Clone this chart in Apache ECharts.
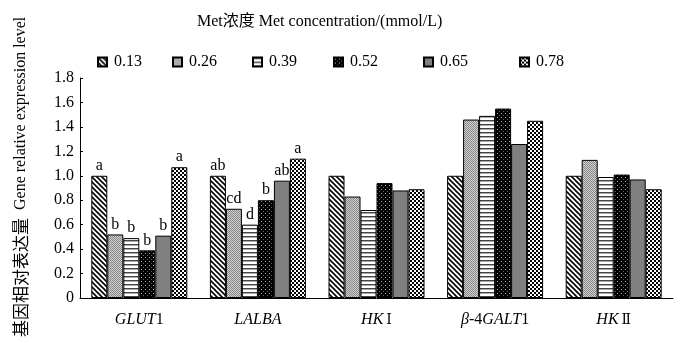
<!DOCTYPE html>
<html><head><meta charset="utf-8">
<script src="https://cdn.jsdelivr.net/npm/echarts@6/dist/echarts.min.js"></script>
<style>html,body{margin:0;padding:0;background:#fff}#c{width:700px;height:343px}</style>
</head><body><div id="c"></div>
<script>
const categories = ['GLUT1', 'LALBA', 'HKⅠ', 'β-4GALT1', 'HKⅡ'];
const seriesNames = ['0.13', '0.26', '0.39', '0.52', '0.65', '0.78'];
const v013 = [1.00, 1.00, 1.00, 1.00, 1.00];
const v026 = [0.52, 0.73, 0.83, 1.46, 1.13];
const v039 = [0.49, 0.60, 0.72, 1.49, 0.99];
const v052 = [0.39, 0.80, 0.94, 1.55, 1.01];
const v065 = [0.51, 0.96, 0.88, 1.26, 0.97];
const v078 = [1.07, 1.14, 0.89, 1.45, 0.89];
const l013 = ['a', 'ab', '', '', ''];
const l026 = ['b', 'cd', '', '', ''];
const l039 = ['b', 'd', '', '', ''];
const l052 = ['b', 'b', '', '', ''];
const l065 = ['b', 'ab', '', '', ''];
const l078 = ['a', 'a', '', '', ''];
const yMin = 0, yMax = 1.8, yStep = 0.2;
const titleText = 'Met浓度 Met concentration/(mmol/L)';
const yNameZh = '基因相对表达量';
const yNameEn = 'Gene relative expression level';
const xLabelRich = {
  'GLUT1': '{i|GLUT}{n|1}',
  'LALBA': '{i|LALBA}',
  'HKⅠ': '{i|HK}{r|Ⅰ}',
  'β-4GALT1': '{i|β}{n|-4}{i|GALT}{n|1}',
  'HKⅡ': '{i|HK}{r|Ⅱ}'
};

const values = [v013, v026, v039, v052, v065, v078];
const letters = [l013, l026, l039, l052, l065, l078];

function tile(size, draw) {
  const c = document.createElement('canvas');
  c.width = size; c.height = size;
  const ctx = c.getContext('2d');
  draw(ctx, size);
  return { image: c, repeat: 'repeat' };
}
const patterns = [
  tile(5, (ctx, s) => {
    ctx.fillStyle = '#fff'; ctx.fillRect(0, 0, s, s);
    ctx.strokeStyle = '#000'; ctx.lineWidth = 1.6;
    for (const o of [-s, 0, s]) { ctx.beginPath(); ctx.moveTo(o - 1, -1); ctx.lineTo(o + s + 1, s + 1); ctx.stroke(); }
  }),
  tile(2, (ctx, s) => {
    ctx.fillStyle = '#cfcfcf'; ctx.fillRect(0, 0, s, s);
    ctx.fillStyle = '#8a8a8a'; ctx.fillRect(0, 0, 1, 1); ctx.fillRect(1, 1, 1, 1);
  }),
  tile(4, (ctx, s) => {
    ctx.fillStyle = '#fff'; ctx.fillRect(0, 0, s, s);
    ctx.fillStyle = '#444'; ctx.fillRect(0, 0, s, 1);
    ctx.fillStyle = '#aaa'; ctx.fillRect(0, 1, s, 1);
  }),
  tile(4, (ctx, s) => {
    ctx.fillStyle = '#000'; ctx.fillRect(0, 0, s, s);
    ctx.fillStyle = '#bbb'; ctx.fillRect(1, 1, 1, 1);
    ctx.fillStyle = '#666'; ctx.fillRect(3, 3, 1, 1);
  }),
  '#808080',
  tile(4, (ctx, s) => {
    ctx.fillStyle = '#000'; ctx.fillRect(0, 0, s, s);
    ctx.fillStyle = '#fff'; ctx.fillRect(0, 0, 2, 2); ctx.fillRect(2, 2, 2, 2);
  })
];

const serif = "'Liberation Serif', 'Noto Sans CJK SC', serif";
const legendLefts = [97, 172, 252, 333, 423, 519];

const chart = echarts.init(document.getElementById('c'), null, { renderer: 'canvas' });
chart.setOption({
  animation: false,
  backgroundColor: '#fff',
  textStyle: { fontFamily: serif },
  title: {
    text: titleText, left: 192, top: 9,
    textStyle: { fontFamily: serif, fontSize: 16, fontWeight: 'normal', color: '#000' }
  },
  legend: seriesNames.map((n, i) => ({
    data: [n], left: legendLefts[i], top: 54, padding: 0,
    itemWidth: 9, itemHeight: 9, itemGap: 0, icon: 'rect',
    selectedMode: false,
    textStyle: { fontFamily: serif, fontSize: 16, color: '#000', padding: [0, 0, 0, 2] }
  })),
  grid: { left: 80, right: 27, top: 78, bottom: 45, containLabel: false },
  xAxis: {
    type: 'category', data: categories,
    axisLine: { lineStyle: { color: '#000', width: 1 } },
    axisTick: { show: false },
    axisLabel: {
      interval: 0, margin: 14, color: '#000',
      formatter: v => xLabelRich[v] || v,
      rich: {
        i: { fontFamily: serif, fontStyle: 'italic', fontSize: 16, color: '#000' },
        n: { fontFamily: serif, fontSize: 16, color: '#000' },
        r: { fontFamily: "'DejaVu Serif', 'Liberation Serif', serif", fontSize: 14, color: '#000', padding: [0, 0, 0, 3] }
      }
    }
  },
  yAxis: {
    type: 'value', min: yMin, max: yMax, interval: yStep,
    axisLine: { show: true, lineStyle: { color: '#000', width: 1 } },
    axisTick: { show: true, inside: true, length: 3, lineStyle: { color: '#000' } },
    splitLine: { show: false },
    axisLabel: {
      margin: 6, color: '#000', fontFamily: serif, fontSize: 16,
      formatter: v => (v === 0 ? '0' : v.toFixed(1))
    }
  },
  graphic: [{
    type: 'text', x: 21, y: 337, rotation: Math.PI / 2,
    style: {
      text: '{z|' + yNameZh + '}{e|  ' + yNameEn + '}',
      rich: {
        z: { fontFamily: "'Noto Sans CJK SC', sans-serif", fontSize: 17, fill: '#000' },
        e: { fontFamily: serif, fontSize: 16, fill: '#000' }
      },
      fill: '#000', align: 'left', verticalAlign: 'middle'
    }
  }],
  series: seriesNames.map((n, i) => ({
    name: n, type: 'bar', data: values[i],
    barWidth: 16, barGap: '0%',
    itemStyle: { color: patterns[i], borderColor: '#000', borderWidth: 1 },
    label: {
      show: true, position: 'top', distance: 2, color: '#000',
      fontFamily: serif, fontSize: 16,
      formatter: p => letters[i][p.dataIndex]
    }
  }))
});
</script></body></html>
